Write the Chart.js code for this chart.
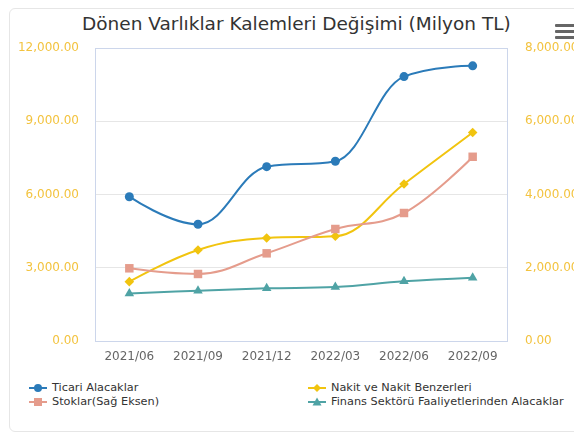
<!DOCTYPE html>
<html>
<head>
<meta charset="utf-8">
<script src="https://cdn.jsdelivr.net/npm/chart.js@4/dist/chart.umd.min.js"></script>
<style>
  html, body { margin: 0; padding: 0; background: #fff; width: 574px; height: 435px; overflow: hidden; }
  .card { position: absolute; left: 9px; top: 8px; width: 620px; height: 424px; border: 1px solid #e6e6e6; border-radius: 6px; box-sizing: border-box; }
  .title { position: absolute; left: 82px; top: 13px; font: 18.5px "DejaVu Sans", sans-serif; line-height: 22px; color: #333; white-space: nowrap; }
  .menu { position: absolute; left: 555px; top: 24px; width: 22px; }
  .menu span { display: block; height: 3px; background: #666; margin-bottom: 3px; border-radius: 1px; }
  #wrap { position: absolute; left: 0; top: 0; width: 600px; height: 375px; }
  .legend-item { position: absolute; font: 11.3px "DejaVu Sans", sans-serif; color: #333; white-space: nowrap; line-height: 14px; }
  .legend-item svg { position: absolute; left: 0; top: -1px; }
  .legend-item .txt { position: absolute; left: 23px; top: 0; }
</style>
</head>
<body>
<div class="card"></div>
<div class="title">Dönen Varlıklar Kalemleri Değişimi (Milyon TL)</div>
<div class="menu"><span></span><span></span><span></span></div>
<div id="wrap"><canvas id="chart"></canvas></div>
<div id="legend"></div>
<script>
const categories = ['2021/06', '2021/09', '2021/12', '2022/03', '2022/06', '2022/09'];
const ticariAlacaklar = [5910, 4780, 7140, 7360, 10830, 11270];
const nakitBenzerleri = [2430, 3730, 4220, 4290, 6430, 8540];
const stoklar = [1985, 1830, 2394, 3058, 3495, 5030];
const finansAlacaklar = [1950, 2060, 2157, 2211, 2444, 2594];
const leftTicks = [0, 3000, 6000, 9000, 12000];
const rightTicks = [0, 2000, 4000, 6000, 8000];

const seriesNames = ['Ticari Alacaklar', 'Nakit ve Nakit Benzerleri', 'Stoklar(Sağ Eksen)', 'Finans Sektörü Faaliyetlerinden Alacaklar'];
const seriesColors = ['#2b7bb9', '#f1c40f', '#e59c8c', '#4fa3a5'];
const seriesMarkers = ['circle', 'rectRot', 'rect', 'triangle'];

const FONT = { family: 'DejaVu Sans', size: 12 };
const fmt = (v) => Number(v).toLocaleString('en-US', { minimumFractionDigits: 2, maximumFractionDigits: 2 });

// plot border like the original (all four sides)
const plotBorder = {
  id: 'plotBorder',
  afterDraw(chart) {
    const { ctx, chartArea: a } = chart;
    ctx.save();
    ctx.strokeStyle = '#ccd6eb';
    ctx.lineWidth = 1;
    ctx.strokeRect(Math.round(a.left) + 0.5, Math.round(a.top) + 0.5, Math.round(a.right - a.left), Math.round(a.bottom - a.top));
    ctx.restore();
  },
};

// spline control points: smoothing 1.5, no false extremes
const splineCurves = {
  id: 'splineCurves',
  beforeDatasetsDraw(chart) {
    chart.data.datasets.forEach((ds, di) => {
      const meta = chart.getDatasetMeta(di);
      const line = meta.dataset;
      if (!line) return;
      line.updateControlPoints(chart.chartArea, 'x');
      const pts = meta.data;
      const sm = 1.5, den = sm + 1;
      pts.forEach((p, i) => {
        p.cp1x = p.x; p.cp1y = p.y; p.cp2x = p.x; p.cp2y = p.y;
        const last = pts[i - 1], next = pts[i + 1];
        if (!last || !next) return;
        let lx = (sm * p.x + last.x) / den, ly = (sm * p.y + last.y) / den;
        let rx = (sm * p.x + next.x) / den, ry = (sm * p.y + next.y) / den;
        let corr = 0;
        if (rx !== lx) corr = ((ry - ly) * (rx - p.x)) / (rx - lx) + p.y - ry;
        ly += corr; ry += corr;
        if (ly > last.y && ly > p.y) { ly = Math.max(last.y, p.y); ry = 2 * p.y - ly; }
        else if (ly < last.y && ly < p.y) { ly = Math.min(last.y, p.y); ry = 2 * p.y - ly; }
        if (ry > next.y && ry > p.y) { ry = Math.max(next.y, p.y); ly = 2 * p.y - ry; }
        else if (ry < next.y && ry < p.y) { ry = Math.min(next.y, p.y); ly = 2 * p.y - ry; }
        p.cp1x = lx; p.cp1y = ly; p.cp2x = rx; p.cp2y = ry;
      });
      delete line._path;
    });
  },
};

function makeSet(i, data, axis, radius) {
  return {
    label: seriesNames[i],
    data,
    yAxisID: axis,
    borderColor: seriesColors[i],
    backgroundColor: seriesColors[i],
    pointBackgroundColor: seriesColors[i],
    pointBorderColor: seriesColors[i],
    pointStyle: seriesMarkers[i],
    pointRadius: radius,
    pointBorderWidth: 0,
    borderWidth: 2,
    tension: 0.4,
    fill: false,
  };
}

new Chart(document.getElementById('chart'), {
  type: 'line',
  data: {
    labels: categories,
    datasets: [
      makeSet(3, finansAlacaklar, 'y', 5.5),
      makeSet(2, stoklar, 'y1', 6),
      makeSet(1, nakitBenzerleri, 'y', 4.8),
      makeSet(0, ticariAlacaklar, 'y', 4.5),
    ],
  },
  plugins: [plotBorder, splineCurves],
  options: {
    responsive: true,
    maintainAspectRatio: false,
    animation: false,
    layout: { padding: { top: 48, left: 0, right: 0, bottom: 0 } },
    plugins: { legend: { display: false }, tooltip: { enabled: false }, title: { display: false } },
    scales: {
      x: {
        offset: true,
        grid: { display: false, drawTicks: false },
        border: { display: false },
        ticks: { font: FONT, color: '#666', padding: 9, maxRotation: 0 },
        afterFit(s) { s.height = 34; },
      },
      y: {
        position: 'left',
        min: 0,
        max: 12000,
        afterBuildTicks(s) { s.ticks = leftTicks.map((v) => ({ value: v })); },
        grid: { color: '#e6e6e6', drawTicks: false },
        border: { display: false },
        ticks: { font: FONT, color: '#f3c33f', padding: 16, callback: fmt },
        afterFit(s) { s.width = 95; },
      },
      y1: {
        position: 'right',
        min: 0,
        max: 8000,
        afterBuildTicks(s) { s.ticks = rightTicks.map((v) => ({ value: v })); },
        grid: { display: false, drawTicks: false },
        border: { display: false },
        ticks: { font: FONT, color: '#f3c33f', padding: 18, callback: fmt },
        afterFit(s) { s.width = 93; },
      },
    },
  },
});

// legend in two columns, built from the series lists
const legendPos = [[29, 381], [308, 381], [29, 395], [308, 395]];
const legendEl = document.getElementById('legend');
function markerSvg(type, color) {
  if (type === 'circle') return `<circle cx="9" cy="8" r="4" fill="${color}"/>`;
  if (type === 'rectRot') return `<polygon points="9,4 13,8 9,12 5,8" fill="${color}"/>`;
  if (type === 'rect') return `<rect x="5" y="4" width="8" height="8" fill="${color}"/>`;
  return `<polygon points="9,3.5 13.5,11.5 4.5,11.5" fill="${color}"/>`;
}
seriesNames.forEach((name, i) => {
  const [x, y] = legendPos[i];
  const item = document.createElement('div');
  item.className = 'legend-item';
  item.style.left = x + 'px';
  item.style.top = y + 'px';
  item.innerHTML = `<svg width="18" height="16"><line x1="0" y1="8" x2="18" y2="8" stroke="${seriesColors[i]}" stroke-width="2"/>${markerSvg(seriesMarkers[i], seriesColors[i])}</svg><span class="txt">${name}</span>`;
  legendEl.appendChild(item);
});
</script>
</body>
</html>
